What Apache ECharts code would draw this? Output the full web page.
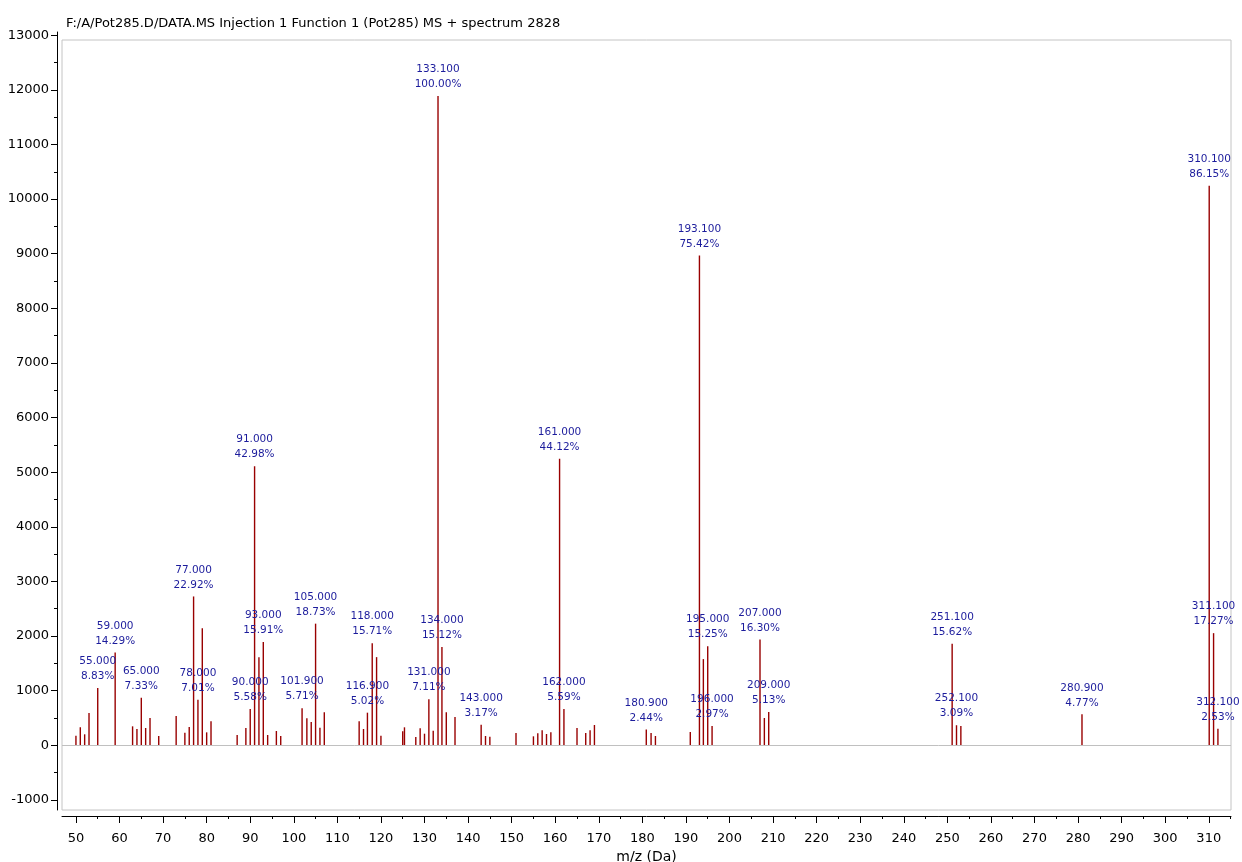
<!DOCTYPE html>
<html>
<head>
<meta charset="utf-8">
<title>Pot285 MS spectrum 2828</title>
<script src="https://cdn.jsdelivr.net/npm/echarts/dist/echarts.min.js"></script>
<style>
html, body { margin: 0; padding: 0; background: #fff; }
#ms { width: 1242px; height: 862px; }
</style>
</head>
<body>
<div id="ms"></div>
<script>
// peaks (m/z, intensity counts)
const peakMz = [50, 51, 52, 53, 55, 59, 63, 64, 65, 66, 67, 69, 73, 75, 76, 77, 78, 79, 80, 81,
  87, 89, 90, 91, 92, 93, 94, 96, 97, 101.9, 103, 104, 105, 106, 107,
  115, 116, 116.9, 118, 119, 120, 125, 125.4, 128, 129, 130, 131, 132, 133.1, 134, 135, 137,
  143, 144, 145, 151, 155, 156, 157, 158, 159, 161, 162, 165, 167, 168, 169,
  180.9, 182, 183, 191, 193.1, 194, 195, 196, 207, 208, 209,
  251.1, 252.1, 253.1, 280.9, 310.1, 311.1, 312.1]
const peakIntensity = [175, 329, 201, 590, 1050, 1699, 347, 298, 871, 316, 499, 170, 536, 231, 335, 2725, 833, 2144, 237, 438,
  188, 316, 663, 5110, 1614, 1892, 188, 261, 170, 679, 493, 426, 2227, 322, 603,
  438, 298, 597, 1868, 1614, 176, 256, 329, 152, 310, 212, 845, 267, 11890, 1798, 603, 517,
  377, 170, 157, 225, 164, 219, 274, 207, 237, 5246, 665, 316, 225, 274, 371,
  290, 225, 170, 243, 8967, 1578, 1813, 353, 1938, 499, 610,
  1857, 367, 355, 567, 10243, 2053, 301]

// annotated peaks and their relative abundance text
const labelMz = [55, 59, 65, 77, 78, 90, 91, 93, 101.9, 105, 116.9, 118, 131, 133.1, 134, 143,
  161, 162, 180.9, 193.1, 195, 196, 207, 209, 251.1, 252.1, 280.9, 310.1, 311.1, 312.1]
const labelPct = ['8.83%', '14.29%', '7.33%', '22.92%', '7.01%', '5.58%', '42.98%', '15.91%', '5.71%', '18.73%',
  '5.02%', '15.71%', '7.11%', '100.00%', '15.12%', '3.17%', '44.12%', '5.59%', '2.44%', '75.42%',
  '15.25%', '2.97%', '16.30%', '5.13%', '15.62%', '3.09%', '4.77%', '86.15%', '17.27%', '2.53%']

// axis ticks
const yLabels = [-1000, 0, 1000, 2000, 3000, 4000, 5000, 6000, 7000, 8000, 9000, 10000, 11000, 12000, 13000]
const yMinor = [-500, 500, 1500, 2500, 3500, 4500, 5500, 6500, 7500, 8500, 9500, 10500, 11500, 12500]
const xLabels = [50, 60, 70, 80, 90, 100, 110, 120, 130, 140, 150, 160, 170, 180, 190, 200,
  210, 220, 230, 240, 250, 260, 270, 280, 290, 300, 310]
const xMinor = [55, 65, 75, 85, 95, 105, 115, 125, 135, 145, 155, 165, 175, 185, 195, 205,
  215, 225, 235, 245, 255, 265, 275, 285, 295, 305, 315]

const FONT = 'DejaVu Sans'

let spectrumData = peakMz.map(function (m, i) {
  let item = { value: [m, peakIntensity[i]] }
  let k = labelMz.indexOf(m)
  if (k >= 0) {
    item.label = {
      show: true,
      formatter: m.toFixed(3) + '\n' + labelPct[k]
    }
  }
  return item
})

let chart = echarts.init(document.getElementById('ms'), null, { renderer: 'canvas' })
chart.setOption({
  animation: false,
  title: {
    text: 'F:/A/Pot285.D/DATA.MS Injection 1 Function 1 (Pot285) MS + spectrum 2828',
    left: 61,
    top: 12,
    textStyle: { fontFamily: FONT, fontSize: 13, fontWeight: 'normal', color: '#000' }
  },
  grid: [
    // axes + data
    { left: 62, right: 11, top: 32, bottom: 52, outerBoundsMode: 'none', containLabel: false },
    // light frame round the plot
    { left: 62, right: 11, top: 40, bottom: 52, outerBoundsMode: 'none', show: true, borderColor: '#c4c4c4', borderWidth: 1, backgroundColor: 'transparent' }
  ],
  xAxis: [
    {
      type: 'value',
      gridIndex: 0,
      min: 46.8,
      max: 315.1,
      offset: 6,
      position: 'bottom',
      name: 'm/z (Da)',
      nameLocation: 'middle',
      nameGap: 31,
      nameTextStyle: { fontFamily: FONT, fontSize: 14, color: '#000' },
      splitLine: { show: false },
      axisLine: { onZero: false, lineStyle: { color: '#000' } },
      axisTick: { customValues: xLabels, length: 7, lineStyle: { color: '#000' } },
      axisLabel: { customValues: xLabels, fontFamily: FONT, fontSize: 13, color: '#000', margin: 16 }
    },
    {
      // minor ticks
      type: 'value',
      gridIndex: 0,
      min: 46.8,
      max: 315.1,
      offset: 6,
      position: 'bottom',
      splitLine: { show: false },
      axisLine: { show: false, onZero: false },
      axisTick: { customValues: xMinor, length: 3, lineStyle: { color: '#000' } },
      axisLabel: { show: false }
    },
    { type: 'value', gridIndex: 1, show: false, min: 0, max: 1 }
  ],
  yAxis: [
    {
      type: 'value',
      gridIndex: 0,
      min: -1185,
      max: 13060,
      offset: 5,
      position: 'left',
      splitLine: { show: false },
      axisLine: { show: true, onZero: false, lineStyle: { color: '#000' } },
      axisTick: { show: true, customValues: yLabels, length: 6, lineStyle: { color: '#000' } },
      axisLabel: {
        customValues: yLabels,
        formatter: function (v) { return String(v) },
        fontFamily: FONT,
        fontSize: 13,
        color: '#000',
        margin: 8
      }
    },
    {
      // minor ticks
      type: 'value',
      gridIndex: 0,
      min: -1185,
      max: 13060,
      offset: 5,
      position: 'left',
      splitLine: { show: false },
      axisLine: { show: false, onZero: false },
      axisTick: { show: true, customValues: yMinor, length: 3, lineStyle: { color: '#000' } },
      axisLabel: { show: false }
    },
    { type: 'value', gridIndex: 1, show: false, min: 0, max: 1 }
  ],
  series: [
    {
      name: 'spectrum 2828',
      type: 'bar',
      xAxisIndex: 0,
      yAxisIndex: 0,
      barWidth: 1.4,
      itemStyle: { color: '#990000' },
      label: {
        show: false,
        position: 'top',
        distance: 4,
        fontFamily: FONT,
        fontSize: 10.5,
        lineHeight: 15,
        color: '#1c1c9c'
      },
      data: spectrumData,
      markLine: {
        silent: true,
        symbol: 'none',
        label: { show: false },
        lineStyle: { color: '#c0c0c0', type: 'solid', width: 1 },
        data: [{ yAxis: 0 }]
      }
    }
  ]
})
</script>
</body>
</html>
